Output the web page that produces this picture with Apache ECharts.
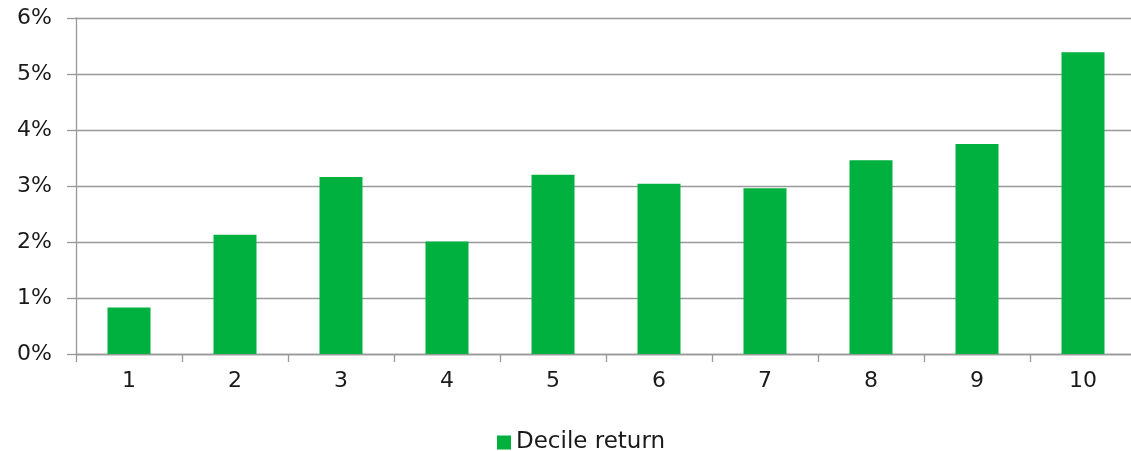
<!DOCTYPE html>
<html>
<head>
<meta charset="utf-8">
<script src="https://cdn.jsdelivr.net/npm/echarts@6/dist/echarts.min.js"></script>
<style>
  html, body { margin: 0; padding: 0; background: #fff; }
  #chart { width: 1131px; height: 451px; }
</style>
</head>
<body>
<div id="chart"></div>
<script>
// Decile buckets and their average return (%)
const deciles = ['1', '2', '3', '4', '5', '6', '7', '8', '9', '10'];
const decileReturn = [0.83, 2.13, 3.16, 2.01, 3.20, 3.04, 2.96, 3.46, 3.75, 5.39];
const seriesName = 'Decile return';
const yTicks = { min: 0, max: 6, interval: 1 };

const FONT = '"DejaVu Sans", Verdana, sans-serif';
const AXIS_GREY = '#999999';
const TEXT = '#1a1a1a';

const chart = echarts.init(document.getElementById('chart'), null, { renderer: 'canvas' });
chart.setOption({
  animation: false,
  backgroundColor: '#ffffff',
  // the last category runs slightly past the right edge of the canvas
  grid: { left: 76, top: 18, right: -5, bottom: 97, containLabel: false, outerBoundsMode: 'none' },
  legend: {
    data: [seriesName],
    left: 492,
    top: 426,
    icon: 'rect',
    itemWidth: 14,
    itemHeight: 14,
    textStyle: { fontFamily: FONT, fontSize: 23, color: TEXT }
  },
  xAxis: {
    type: 'category',
    data: deciles,
    axisLine: { lineStyle: { color: AXIS_GREY, width: 1.3 } },
    axisTick: { show: true, length: 8, lineStyle: { color: AXIS_GREY, width: 1.3 } },
    axisLabel: { fontFamily: FONT, fontSize: 22, color: TEXT, margin: 16 }
  },
  yAxis: {
    type: 'value',
    min: yTicks.min,
    max: yTicks.max,
    interval: yTicks.interval,
    axisLine: { show: true, lineStyle: { color: AXIS_GREY, width: 1.3 } },
    axisTick: { show: true, length: 9, lineStyle: { color: AXIS_GREY, width: 1.3 } },
    splitLine: { lineStyle: { color: AXIS_GREY, width: 1.3 } },
    axisLabel: { fontFamily: FONT, fontSize: 22, color: TEXT, margin: 24, formatter: '{value}%' }
  },
  series: [{
    name: seriesName,
    type: 'bar',
    data: decileReturn,
    barWidth: 43,
    itemStyle: { color: '#00b140' }
  }]
});
</script>
</body>
</html>
